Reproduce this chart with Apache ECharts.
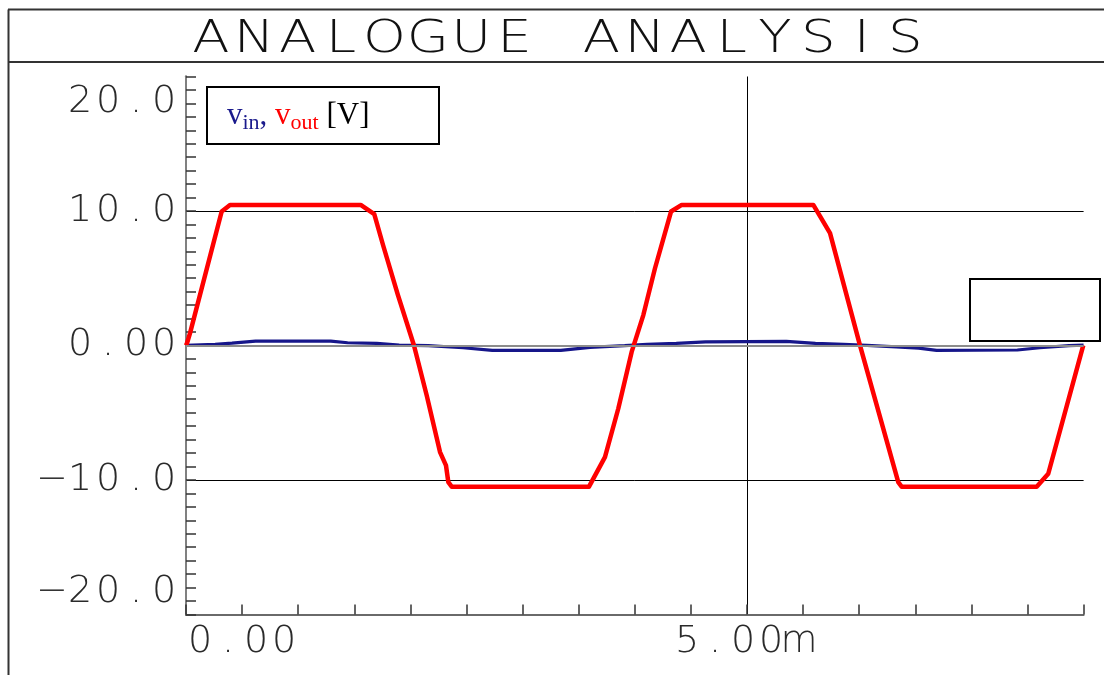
<!DOCTYPE html>
<html><head><meta charset="utf-8">
<script src="https://cdn.jsdelivr.net/npm/echarts@6/dist/echarts.min.js"></script>
<style>html,body{margin:0;padding:0;background:#fff}#c{width:1104px;height:675px}</style>
</head><body><div id="c"></div>
<script>
// ---- data ----
const titleText = 'ANALOGUE ANALYSIS';
const xTickLabels = {'0': '0.00', '5': '5.00m'};
const yTickLabels = {'20': '20.0', '10': '10.0', '0': '0.00', '-10': '\u221210.0', '-20': '\u221220.0'};
// time in ms
const vinT  = [0, 0.26, 0.41, 0.62, 1.29, 1.44, 1.70, 1.90, 2.16, 2.47, 2.73, 3.34, 3.60, 3.91, 4.11, 4.37, 4.63, 5.35, 5.61, 5.86, 6.07, 6.33, 6.53, 6.69, 7.41, 7.61, 7.87, 8.0];
const vinV  = [0, 0.08, 0.17, 0.32, 0.32, 0.2, 0.15, 0.03, -0.02, -0.17, -0.36, -0.36, -0.15, -0.02, 0.08, 0.15, 0.27, 0.3, 0.15, 0.08, 0.0, -0.1, -0.2, -0.36, -0.34, -0.17, -0.02, 0.03];
const voutT = [0, 0.01, 0.036, 0.318, 0.392, 1.557, 1.678, 1.756, 1.889, 2.032, 2.145, 2.264, 2.317, 2.338, 2.368, 3.592, 3.734, 3.853, 3.972, 4.076, 4.18, 4.323, 4.418, 5.591, 5.74, 6.007, 6.348, 6.378, 7.582, 7.685, 7.997];
const voutV = [0, 0.2, 0.92, 9.96, 10.45, 10.45, 9.76, 7.47, 3.75, 0, -3.7, -7.93, -8.92, -10.16, -10.5, -10.5, -8.3, -4.69, -0.48, 2.26, 5.74, 9.96, 10.45, 10.45, 8.35, 0, -10.16, -10.5, -10.5, -9.54, 0];

const vinData = vinT.map((t, i) => [t, vinV[i]]);
const voutData = voutT.map((t, i) => [t, voutV[i]]);

const labelFont = "'DejaVu Sans', sans-serif";
const cell = (extra) => Object.assign({width: 28, align: 'center', fontSize: 38, lineHeight: 32,
  fontFamily: labelFont, fontWeight: 200, color: '#2a2a2a'}, extra || {});
const cells = (s, st) => s.split('').map(ch => '{' + st + '|' + ch + '}').join('');
const serif = "'Liberation Serif', 'Times New Roman', serif";

const chart = echarts.init(document.getElementById('c'), null, {renderer: 'canvas'});
chart.setOption({
  animation: false,
  backgroundColor: '#fff',
  grid: {left: 186, right: 20.4, top: 76.5, bottom: 60.6, containLabel: false},
  xAxis: {
    type: 'value', min: 0, max: 8, interval: 5,
    axisLine: {show: true, onZero: false, lineStyle: {color: '#6a6a6a', width: 2}},
    axisTick: {show: true, inside: true, length: 10, lineStyle: {color: '#333', width: 1.5}},
    minorTick: {show: true, splitNumber: 10, length: 10, lineStyle: {color: '#333', width: 1.5}},
    splitLine: {show: true, lineStyle: {color: ['transparent', '#000'], width: 1}},
    axisLabel: {
      margin: 12,
      formatter: v => {
        const s = xTickLabels[String(v)];
        if (!s) return '';
        return v === 0 ? '{p| }' + cells(s, 'c') : cells(s, 'c') + '{q| }';
      },
      rich: {c: cell(), p: {width: 112}, q: {width: 8}}
    }
  },
  yAxis: [{
    type: 'value', min: -20, max: 20, interval: 10,
    axisLine: {show: true, onZero: false, lineStyle: {color: '#333', width: 2}},
    axisTick: {show: true, inside: true, length: 10, lineStyle: {color: '#333', width: 1.5}},
    minorTick: {show: true, splitNumber: 10, length: 10, lineStyle: {color: '#333', width: 1.5}},
    splitLine: {show: true, lineStyle: {color: ['transparent', '#000', 'transparent', '#000', 'transparent'], width: 1}},
    axisLabel: {
      margin: 8,
      formatter: v => {
        const s = yTickLabels[String(v)];
        if (!s) return '';
        return cells(s, v === 20 ? 't' : (v === -20 ? 'b' : 'c'));
      },
      rich: {c: cell(), t: cell({padding: [51, 0, 0, 0]}), b: cell({padding: [0, 0, 44, 0]})}
    }
  }, {
    type: 'value', min: -20, max: 20, position: 'right',
    axisLine: {show: true, lineStyle: {color: '#808080', width: 2}},
    axisTick: {show: false}, axisLabel: {show: false}, splitLine: {show: false}
  }],
  series: [{
    name: 'vin', type: 'line', data: vinData, showSymbol: false, z: 3,
    lineStyle: {color: '#16168a', width: 3.2},
    markLine: {
      silent: true, symbol: 'none', label: {show: false},
      lineStyle: {color: '#8c8c8c', width: 2, type: 'solid'},
      data: [{yAxis: 0}]
    }
  }, {
    name: 'vout', type: 'line', data: voutData, showSymbol: false, z: 4,
    lineStyle: {color: '#ff0000', width: 4.5, join: 'round'}
  }],
  graphic: [
    {type: 'line', z: 100, shape: {x1: 8.5, y1: 9.5, x2: 8.5, y2: 675}, style: {stroke: '#333', lineWidth: 2}},
    {type: 'line', z: 100, shape: {x1: 8, y1: 9.5, x2: 1104, y2: 9.5}, style: {stroke: '#333', lineWidth: 2}},
    {type: 'line', z: 100, shape: {x1: 8, y1: 62, x2: 1104, y2: 62}, style: {stroke: '#333', lineWidth: 2}},
    {type: 'text', z: 100, x: 558, y: 41, scaleX: 1.24, style: {
      text: cells(titleText, 't'), align: 'center', verticalAlign: 'middle',
      rich: {t: {width: 35, align: 'center', fontSize: 44, fontWeight: 200,
        fontFamily: "'DejaVu Sans', sans-serif", fill: '#111'}}
    }},
    {type: 'rect', z: 100, shape: {x: 207, y: 87, width: 232, height: 57}, style: {fill: '#fff', stroke: '#000', lineWidth: 2}},
    {type: 'text', z: 101, x: 227, y: 116, style: {
      text: '{vb|v}{sb|in}{kb|, }{vr|v}{sr|out}{kk| [V]}', align: 'left', verticalAlign: 'middle',
      rich: {
        vb: {fontFamily: serif, fontSize: 31, fill: '#1a1a8c'},
        sb: {fontFamily: serif, fontSize: 22, fill: '#1a1a8c', padding: [15, 0, 0, 0]},
        kb: {fontFamily: serif, fontSize: 31, fill: '#1a1a8c'},
        vr: {fontFamily: serif, fontSize: 31, fill: '#ff0000'},
        sr: {fontFamily: serif, fontSize: 22, fill: '#ff0000', padding: [15, 0, 0, 0]},
        kk: {fontFamily: serif, fontSize: 31, fill: '#000'}
      }
    }},
    {type: 'rect', z: 100, shape: {x: 970, y: 279, width: 130, height: 62}, style: {fill: 'transparent', stroke: '#000', lineWidth: 2}}
  ]
});
</script></body></html>
